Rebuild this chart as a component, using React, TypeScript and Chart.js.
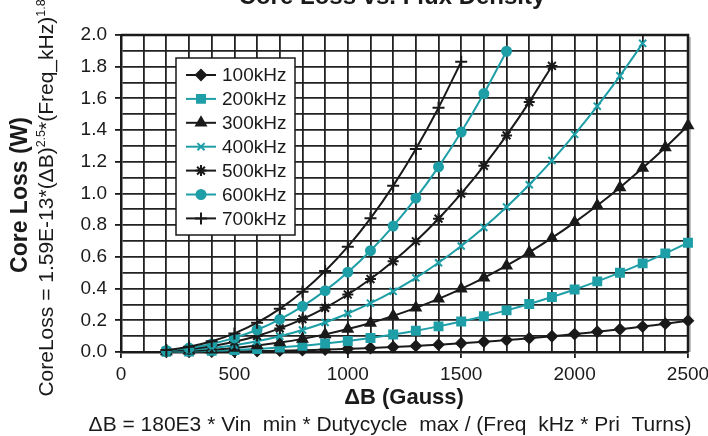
import { useEffect, useRef } from "react";
import { Chart, registerables } from "chart.js";
import { drawPoint } from "chart.js/helpers";

Chart.register(...registerables);

// ---------- data ----------
const fluxGauss = [200, 300, 400, 500, 600, 700, 800, 900, 1000, 1100, 1200, 1300, 1400, 1500, 1600, 1700, 1800, 1900, 2000, 2100, 2200, 2300, 2400, 2500];

const seriesNames = ["100kHz", "200kHz", "300kHz", "400kHz", "500kHz", "600kHz", "700kHz"];

const loss100k = [0.0004, 0.001, 0.002, 0.0035, 0.0056, 0.0082, 0.0115, 0.0154, 0.02, 0.0254, 0.0316, 0.0386, 0.0464, 0.0552, 0.0648, 0.0754, 0.087, 0.0996, 0.1132, 0.1279, 0.1437, 0.1606, 0.1786, 0.1978];
const loss200k = [0.0012, 0.0034, 0.0071, 0.0123, 0.0194, 0.0286, 0.0399, 0.0536, 0.0697, 0.0885, 0.11, 0.1343, 0.1616, 0.1921, 0.2257, 0.2626, 0.303, 0.3468, 0.3943, 0.4455, 0.5004, 0.5592, 0.622, 0.6888];
const loss300k = [0.0026, 0.0071, 0.0146, 0.0256, 0.0403, 0.0593, 0.0828, 0.1111, 0.1446, 0.1835, 0.2281, 0.2787, 0.3354, 0.3985, 0.4683, 0.5449, 0.6286, 0.7196, 0.8181, 0.9242, 1.0382, 1.1602, 1.2904, 1.4291];
const loss400k = [0.0043, 0.012, 0.0246, 0.0429, 0.0677, 0.0995, 0.1389, 0.1865, 0.2427, 0.308, 0.3829, 0.4677, 0.5629, 0.6689, 0.786, 0.9146, 1.0551, 1.2078, 1.373, 1.5512, 1.7425, 1.9473];
const loss500k = [0.0065, 0.0179, 0.0367, 0.0641, 0.1011, 0.1487, 0.2076, 0.2787, 0.3627, 0.4603, 0.5721, 0.6989, 0.8411, 0.9995, 1.1745, 1.3667, 1.5766, 1.8048];
const loss600k = [0.009, 0.0248, 0.051, 0.089, 0.1404, 0.2064, 0.2883, 0.387, 0.5036, 0.6391, 0.7944, 0.9703, 1.1679, 1.3877, 1.6307, 1.8975];
const loss700k = [0.0119, 0.0328, 0.0673, 0.1175, 0.1853, 0.2725, 0.3805, 0.5107, 0.6646, 0.8434, 1.0484, 1.2807, 1.5413, 1.8315];

const allLosses = [loss100k, loss200k, loss300k, loss400k, loss500k, loss600k, loss700k];

const xTickStep = 500;
const yTickStep = 0.2;

const chartTitle = "Core Loss vs. Flux Density";
const xTitle = "ΔB (Gauss)";
const xSubtitle = "ΔB = 180E3 * Vin  min * Dutycycle  max / (Freq  kHz * Pri  Turns)";
const yTitle = "Core Loss (W)";
const yFormulaParts: [string, boolean][] = [
  ["CoreLoss = 1.59E-13*(ΔB)", false],
  ["2.5", true],
  ["*(Freq_kHz)", false],
  ["1.8", true],
];

// ---------- styles ----------
const BLACK = "#1a1a1a";
const TEAL = "#1e9ea6";
const FONT = '"Liberation Sans", Arial, sans-serif';

const seriesStyles = [
  { color: BLACK, pointStyle: "rectRot", radius: 5 },
  { color: TEAL, pointStyle: "rect", radius: 5.6 },
  { color: BLACK, pointStyle: "triangle", radius: 5.5 },
  { color: TEAL, pointStyle: "crossRot", radius: 5 },
  { color: BLACK, pointStyle: "star", radius: 5.5 },
  { color: TEAL, pointStyle: "circle", radius: 4.5 },
  { color: BLACK, pointStyle: "cross", radius: 6 },
];

const framePlugin = {
  id: "plotFrame",
  beforeDatasetsDraw(chart: any) {
    const { ctx, chartArea } = chart;
    const { left, right, top, bottom } = chartArea;
    ctx.save();
    ctx.strokeStyle = "rgba(0,0,0,0.25)";
    ctx.lineWidth = 2;
    ctx.beginPath();
    ctx.moveTo(right + 2, top + 2);
    ctx.lineTo(right + 2, bottom);
    ctx.stroke();
    ctx.strokeStyle = BLACK;
    ctx.lineWidth = 2.5;
    ctx.beginPath();
    ctx.moveTo(left, top);
    ctx.lineTo(right, top);
    ctx.lineTo(right, bottom);
    ctx.stroke();
    ctx.restore();
  },
};

const textPlugin = {
  id: "customTexts",
  afterDraw(chart: any) {
    const ctx: CanvasRenderingContext2D = chart.ctx;
    ctx.save();
    ctx.fillStyle = BLACK;
    ctx.textBaseline = "alphabetic";

    // title (clipped at top as in reference)
    ctx.textAlign = "center";
    ctx.font = `bold 24px ${FONT}`;
    ctx.fillText(chartTitle, 392, 4);

    // x titles
    ctx.font = `bold 22px ${FONT}`;
    ctx.fillText(xTitle, 404, 404);
    ctx.font = `21px ${FONT}`;
    ctx.fillText(xSubtitle, 390, 431);

    // y title
    ctx.save();
    ctx.translate(27, 195);
    ctx.rotate(-Math.PI / 2);
    ctx.font = `bold 23px ${FONT}`;
    ctx.textAlign = "center";
    ctx.fillText(yTitle, 0, 0);
    ctx.restore();

    // y formula
    ctx.save();
    ctx.translate(53, 198);
    ctx.rotate(-Math.PI / 2);
    ctx.textAlign = "left";
    const mainFont = `21px ${FONT}`;
    const supFont = `12.5px ${FONT}`;
    let total = 0;
    for (const [t, sup] of yFormulaParts) {
      ctx.font = sup ? supFont : mainFont;
      total += ctx.measureText(t).width;
    }
    let x = -total / 2;
    for (const [t, sup] of yFormulaParts) {
      ctx.font = sup ? supFont : mainFont;
      ctx.fillText(t, x, sup ? -8.5 : 0);
      x += ctx.measureText(t).width;
    }
    ctx.restore();

    // legend
    const lx = 176, ly = 58, lw = 119, lh = 177;
    ctx.fillStyle = "#ffffff";
    ctx.fillRect(lx, ly, lw, lh);
    ctx.strokeStyle = BLACK;
    ctx.lineWidth = 1.5;
    ctx.strokeRect(lx, ly, lw, lh);
    ctx.font = `19px ${FONT}`;
    ctx.textAlign = "left";
    ctx.textBaseline = "middle";
    seriesNames.forEach((name, i) => {
      const st = seriesStyles[i];
      const y = 75 + i * 23.9;
      ctx.strokeStyle = st.color;
      ctx.fillStyle = st.color;
      ctx.lineWidth = 2;
      ctx.beginPath();
      ctx.moveTo(186, y);
      ctx.lineTo(216, y);
      ctx.stroke();
      drawPoint(ctx, { pointStyle: st.pointStyle as any, radius: st.radius, borderWidth: 2, rotation: 0 } as any, 201, y);
      ctx.fillStyle = BLACK;
      ctx.fillText(name, 222, y + 1);
    });
    ctx.restore();
  },
};

export default function App() {
  const canvasRef = useRef<HTMLCanvasElement | null>(null);

  useEffect(() => {
    document.body.style.margin = "0";
    const canvas = canvasRef.current;
    if (!canvas) return;

    const datasets = allLosses.map((vals, i) => ({
      label: seriesNames[i],
      data: vals.map((v, j) => ({ x: fluxGauss[j], y: v })),
      borderColor: seriesStyles[i].color,
      backgroundColor: seriesStyles[i].color,
      pointBackgroundColor: seriesStyles[i].color,
      pointBorderColor: seriesStyles[i].color,
      pointStyle: seriesStyles[i].pointStyle as any,
      pointRadius: seriesStyles[i].radius,
      pointBorderWidth: 2,
      borderWidth: 2,
      tension: 0.3,
      fill: false,
      clip: false as any,
      order: 6 - i,
    }));

    const chart = new Chart(canvas, {
      type: "line",
      data: { datasets },
      options: {
        responsive: false,
        animation: false,
        devicePixelRatio: 1,
        layout: { padding: { top: 35, right: 20, left: 0, bottom: 0 } },
        plugins: { legend: { display: false }, tooltip: { enabled: false }, title: { display: false } },
        font: { family: FONT },
        scales: {
          x: {
            type: "linear",
            min: 0,
            max: 2500,
            afterFit: (s: any) => { s.height = 84; s.paddingRight = 0; s.paddingLeft = 0; },
            ticks: {
              stepSize: 100,
              autoSkip: false,
              maxRotation: 0,
              padding: 5,
              color: BLACK,
              font: { family: FONT, size: 19 },
              callback: (v: any) => (Math.round(v) % xTickStep === 0 ? String(Math.round(v)) : ""),
            },
            grid: {
              color: "#222",
              lineWidth: 1.8,
              tickLength: 6,
              tickWidth: 1.8,
              tickColor: (c: any) => (c.tick && Math.round(c.tick.value) % xTickStep === 0 ? BLACK : "rgba(0,0,0,0)"),
            },
            border: { display: true, color: BLACK, width: 2.5 },
          },
          y: {
            type: "linear",
            min: 0,
            max: 2,
            afterFit: (s: any) => { s.width = 121; s.paddingTop = 0; s.paddingBottom = 0; },
            ticks: {
              stepSize: 0.1,
              autoSkip: false,
              padding: 8,
              color: BLACK,
              font: { family: FONT, size: 19 },
              callback: (v: any) => {
                const n = Math.round(Number(v) * 10);
                return n % Math.round(yTickStep * 10) === 0 ? (n / 10).toFixed(1) : "";
              },
            },
            grid: {
              color: "#222",
              lineWidth: 1.8,
              tickLength: 6,
              tickWidth: 1.8,
              tickColor: (c: any) => (c.tick && Math.round(c.tick.value * 10) % 2 === 0 ? BLACK : "rgba(0,0,0,0)"),
            },
            border: { display: true, color: BLACK, width: 2.5 },
          },
        },
      } as any,
      plugins: [framePlugin, textPlugin],
    });

    return () => chart.destroy();
  }, []);

  return (
    <div style={{ position: "absolute", left: 0, top: 0, width: 708, height: 436 }}>
      <canvas ref={canvasRef} width={708} height={436} style={{ display: "block", width: 708, height: 436 }} />
    </div>
  );
}
